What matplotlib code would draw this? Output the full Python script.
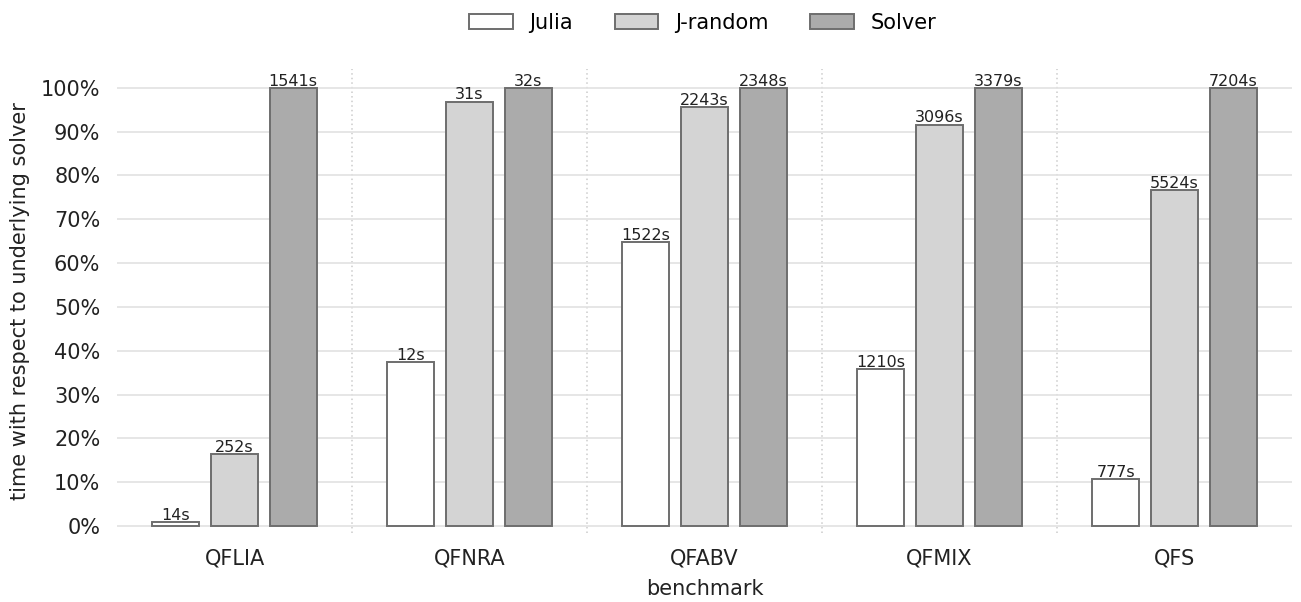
import matplotlib.pyplot as plt
import numpy as np
from matplotlib.ticker import PercentFormatter

# runtimes in seconds per benchmark family
benchmarks = ['QFLIA', 'QFNRA', 'QFABV', 'QFMIX', 'QFS']
julia = [14, 12, 1522, 1210, 777]
jrandom = [252, 31, 2243, 3096, 5524]
solver = [1541, 32, 2348, 3379, 7204]

series = [
    ('Julia', julia, 'white'),
    ('J-random', jrandom, '#d4d4d4'),
    ('Solver', solver, '#ababab'),
]

plt.rcParams['font.family'] = 'DejaVu Sans'

fig = plt.figure(figsize=(13.01, 6.02), dpi=100)
ax = fig.add_axes([117 / 1301, 69 / 602, 1175 / 1301, 464 / 602])

x = np.arange(len(benchmarks))
width = 0.2
offsets = [-0.25, 0.0, 0.25]
base = np.array(solver, dtype=float)

for (name, secs, color), off in zip(series, offsets):
    rel = np.array(secs) / base
    bars = ax.bar(x + off, rel, width, color=color, edgecolor='#6e6e6e',
                  linewidth=1.4, label=name, zorder=3)
    for b, s in zip(bars, secs):
        ax.text(b.get_x() + b.get_width() / 2, b.get_height() - 0.002, f'{s}s',
                ha='center', va='bottom', fontsize=11.5, color='#222222', zorder=4)

# dotted separators between benchmark groups
for sep in x[:-1] + 0.5:
    ax.axvline(sep, color='#cccccc', linestyle=(0, (1, 2)), linewidth=1.1, zorder=1)

ax.set_xlim(-0.5, len(benchmarks) - 0.5)
ax.set_ylim(-0.016, 1.043)
ax.set_yticks(np.arange(0, 1.01, 0.1))
ax.yaxis.set_major_formatter(PercentFormatter(1.0, decimals=0))
ax.yaxis.grid(True, color='#e2e2e2', linewidth=1.2, zorder=0)
ax.set_xticks(x)
ax.set_xticklabels(benchmarks)
ax.tick_params(axis='both', length=0, labelsize=15, colors='#222222')
ax.tick_params(axis='x', pad=11)
ax.tick_params(axis='y', pad=12)
for sp in ax.spines.values():
    sp.set_visible(False)

ax.set_xlabel('benchmark', fontsize=15, color='#222222', labelpad=8)
ax.set_ylabel('time with respect to underlying solver', fontsize=15, color='#222222', labelpad=8)

fig.legend(loc='upper center', bbox_to_anchor=(0.54, 1.01), ncol=3, frameon=False,
           fontsize=15, handlelength=2.1, handleheight=0.7, handletextpad=0.8,
           columnspacing=2.0)

fig.savefig('out.png', dpi=100)
